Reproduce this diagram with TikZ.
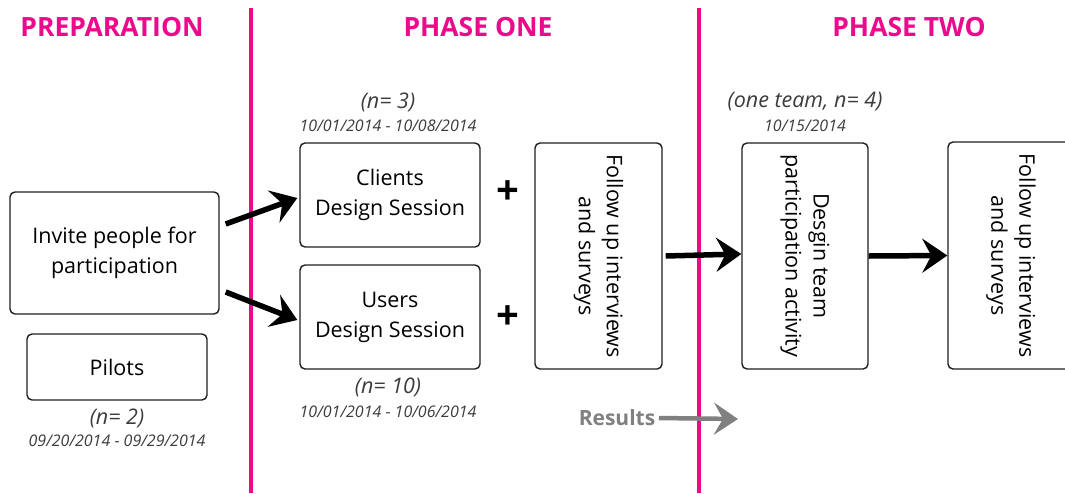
\documentclass[tikz,border=0pt]{standalone}
\usepackage{fontspec}
\setmainfont{Open Sans}
\usetikzlibrary{arrows.meta,calc}
\definecolor{phasepink}{RGB}{236,10,140}
\definecolor{notegrey}{RGB}{60,60,60}
\definecolor{resgrey}{RGB}{128,128,128}
\definecolor{boxline}{RGB}{30,30,30}
\tikzset{
  stagebox/.style={draw=boxline, line width=1.4pt, rounded corners=5pt, inner sep=0pt},
  boxtext/.style={align=center, font=\fontsize{21.5}{30}\selectfont},
  vtext/.style={align=center, rotate=-90, font=\fontsize{21.5}{28}\selectfont},
  phasehead/.style={text=phasepink, font=\fontsize{26.5}{30}\selectfont\bfseries},
  divider/.style={draw=phasepink, line width=4pt},
  countnote/.style={text=notegrey, font=\fontsize{21.5}{24}\selectfont\itshape},
  datenote/.style={text=notegrey, font=\fontsize{16}{18}\selectfont\itshape},
  flow/.style={line width=5.5pt, -{Stealth[length=25pt,width=34pt,inset=9pt]}},
  resflow/.style={draw=resgrey, line width=4.5pt, -{Stealth[length=24pt,width=32pt,inset=9pt]}},
  plus/.style={font=\fontsize{40}{40}\selectfont\bfseries},
}
\begin{document}
\begin{tikzpicture}[x=1pt,y=-1pt]
\useasboundingbox (0,0) rectangle (1065,493);
\clip (0,0) rectangle (1065,493);

% phase dividers and headings
\draw[divider] (251,8) -- (251,493);
\draw[divider] (699,8) -- (699,493);
\node[phasehead] (hprep) at (112,27) {PREPARATION};
\node[phasehead] (hone) at (478,27) {PHASE ONE};
\node[phasehead] (htwo) at (909,27) {PHASE TWO};

% preparation
\node[stagebox, minimum width=209pt, minimum height=122pt] (invite) at (114.5,253) {};
\node[boxtext] at (invite) {Invite people for\\participation};
\node[stagebox, minimum width=180pt, minimum height=66pt] (pilots) at (117,367) {};
\node[boxtext] at (pilots) {Pilots};
\node[countnote] (npilots) at (117,418) {(n= 2)};
\node[datenote] (dpilots) at (117,441) {09/20/2014 - 09/29/2014};

% phase one
\node[stagebox, minimum width=180pt, minimum height=104pt] (clients) at (390,195) {};
\node[boxtext] at (clients) {Clients\\Design Session};
\node[countnote] (nclients) at (388,102) {(n= 3)};
\node[datenote] (dclients) at (388,126) {10/01/2014 - 10/08/2014};

\node[stagebox, minimum width=180pt, minimum height=104pt] (users) at (390,317) {};
\node[boxtext] at (users) {Users\\Design Session};
\node[countnote] (nusers) at (388,387) {(n= 10)};
\node[datenote] (dusers) at (388,412) {10/01/2014 - 10/06/2014};

\node[plus] (plusa) at (508,193) {+};
\node[plus] (plusb) at (508,318) {+};

\node[stagebox, minimum width=127pt, minimum height=226pt] (follow1) at (598.5,256) {};
\node[vtext] at (follow1) {Follow up interviews\\and surveys};

\node[text=resgrey, font=\fontsize{21}{24}\selectfont\bfseries] (results) at (617,418) {Results};
\coordinate (resend) at (738,419);

% phase two
\node[stagebox, minimum width=126pt, minimum height=226pt] (design) at (805,256) {};
\node[vtext] at (design) {Desgin team\\participation activity};
\node[countnote] (ndesign) at (805,102) {(one team, n= 4)};
\node[datenote] (ddesign) at (805,126) {10/15/2014};

\node[stagebox, minimum width=126pt, minimum height=227pt] (follow2) at (1011,255.5) {};
\node[vtext] at (follow2) {Follow up interviews\\and surveys};

% connectors
\draw[flow] ($(invite.east)+(6,-29)$) -- ($(clients.west)+(-2,3)$);
\draw[flow] ($(invite.east)+(6,39)$) -- ($(users.west)+(-2,3)$);
\draw[flow] ($(follow1.east)+(3,0)$) -- ($(design.west)+(0,-2)$);
\draw[flow] (design.east) -- (follow2.west);
\draw[resflow] (results.east) -- (resend);
\end{tikzpicture}
\end{document}
